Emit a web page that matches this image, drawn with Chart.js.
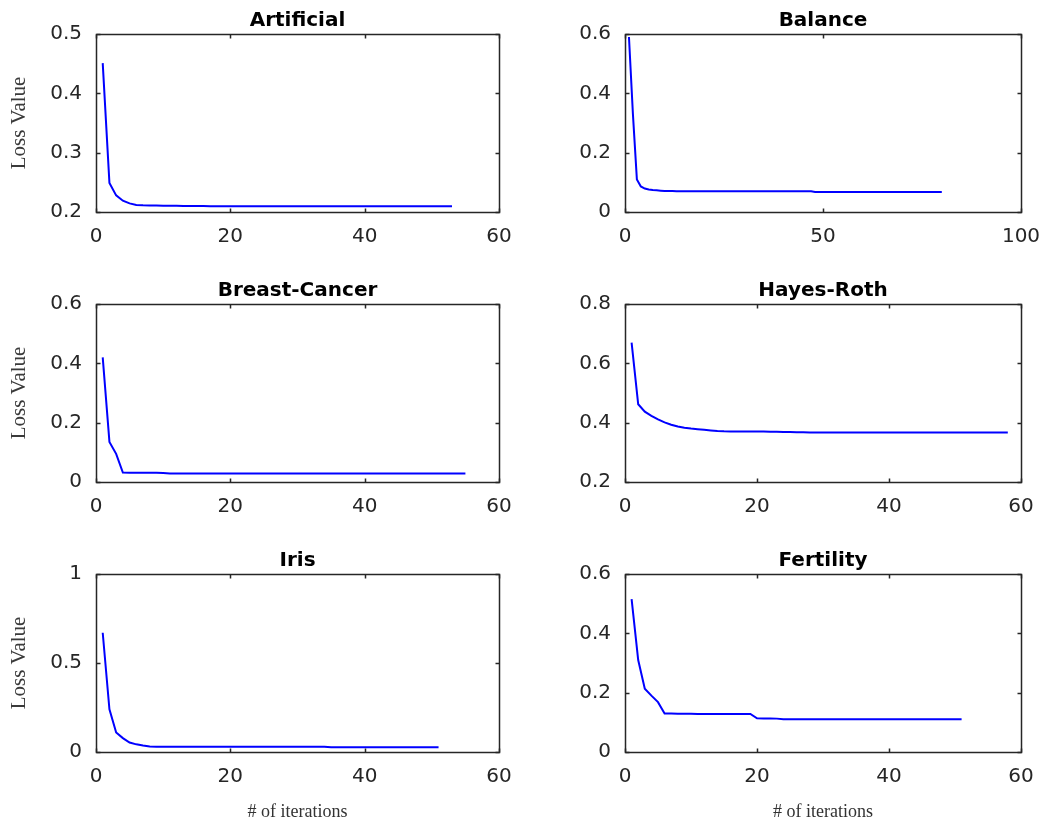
<!DOCTYPE html>
<html>
<head>
<meta charset="utf-8">
<script src="https://cdn.jsdelivr.net/npm/chart.js@4.4.1/dist/chart.umd.min.js"></script>
<style>
    body { margin: 0; background: #ffffff; }
    #wrap { position: relative; width: 1051px; height: 823px; background: #ffffff; }
    canvas { position: absolute; }
</style>
</head>
<body>
<div id="wrap">
    <canvas id="c1" width="520" height="270" style="left:0px;top:0px"></canvas>
    <canvas id="c2" width="526" height="270" style="left:525px;top:0px"></canvas>
    <canvas id="c3" width="520" height="270" style="left:0px;top:270px"></canvas>
    <canvas id="c4" width="526" height="270" style="left:525px;top:270px"></canvas>
    <canvas id="c5" width="520" height="283" style="left:0px;top:540px"></canvas>
    <canvas id="c6" width="526" height="283" style="left:525px;top:540px"></canvas>
</div>
<script>
"use strict";

// loss per iteration (iteration = index + 1)
var artificialLoss = [
    0.451, 0.249, 0.228, 0.219, 0.2145, 0.2118, 0.2112, 0.2110, 0.2108, 0.2106,
    0.2105, 0.2104, 0.2103, 0.2102, 0.2101, 0.2100, 0.2099, 0.2098, 0.2097, 0.2097,
    0.2096, 0.2096, 0.2096, 0.2096, 0.2096, 0.2096, 0.2096, 0.2096, 0.2096, 0.2096, 0.2096,
    0.2096, 0.2096, 0.2096, 0.2096, 0.2096, 0.2096, 0.2096, 0.2096, 0.2096, 0.2096, 0.2096,
    0.2096, 0.2096, 0.2096, 0.2096, 0.2096, 0.2096, 0.2096, 0.2096, 0.2096, 0.2096, 0.2096
];
var balanceLoss = [
    0.59, 0.33, 0.11, 0.086, 0.079, 0.076, 0.074, 0.073, 0.072, 0.071,
    0.0705, 0.0704, 0.0703, 0.0702, 0.0701, 0.0700, 0.0700, 0.0700, 0.0699, 0.0699,
    0.0698, 0.0698, 0.0698, 0.0698, 0.0698, 0.0698, 0.0698, 0.0698, 0.0698, 0.0698,
    0.0698, 0.0698, 0.0698, 0.0698, 0.0698, 0.0698, 0.0698, 0.0698, 0.0698, 0.0698,
    0.0698, 0.0698, 0.0698, 0.0698, 0.0698, 0.0698, 0.0698,
    0.0672, 0.0672, 0.0672, 0.0672, 0.0672, 0.0672, 0.0672, 0.0672, 0.0672, 0.0672, 0.0672,
    0.0672, 0.0672, 0.0672, 0.0672, 0.0672, 0.0672, 0.0672, 0.0672, 0.0672, 0.0672, 0.0672,
    0.0672, 0.0672, 0.0672, 0.0672, 0.0672, 0.0672, 0.0672, 0.0672, 0.0672, 0.0672, 0.0672
];
var breastLoss = [
    0.42, 0.135, 0.095, 0.032, 0.0315, 0.0312, 0.031, 0.031, 0.031, 0.0305,
    0.0288, 0.0288, 0.0288, 0.0288, 0.0288, 0.0288, 0.0288, 0.0288, 0.0288,
    0.0288, 0.0288, 0.0288, 0.0288, 0.0288, 0.0288, 0.0288, 0.0288, 0.0288,
    0.0288, 0.0288, 0.0288, 0.0288, 0.0288, 0.0288, 0.0288, 0.0288, 0.0288,
    0.0288, 0.0288, 0.0288, 0.0288, 0.0288, 0.0288, 0.0288, 0.0288, 0.0288,
    0.0288, 0.0288, 0.0288, 0.0288, 0.0288, 0.0288, 0.0288, 0.0288, 0.0288
];
var hayesLoss = [
    0.67, 0.462, 0.437, 0.423, 0.411, 0.401, 0.393, 0.387, 0.383, 0.380,
    0.378, 0.376, 0.374, 0.372, 0.371, 0.3705, 0.3703, 0.3701, 0.370, 0.370,
    0.370, 0.369, 0.369, 0.3685, 0.3685, 0.368, 0.368,
    0.3672, 0.3672, 0.3672, 0.3672, 0.3672, 0.3672, 0.3672, 0.3672, 0.3672, 0.3672, 0.3672,
    0.3672, 0.3672, 0.3672, 0.3672, 0.3672, 0.3672, 0.3672, 0.3672, 0.3672, 0.3672,
    0.3672, 0.3672, 0.3672, 0.3672, 0.3672, 0.3672, 0.3672, 0.3672, 0.3672, 0.3672
];
var irisLoss = [
    0.67, 0.24, 0.11, 0.078, 0.053, 0.043, 0.036, 0.031,
    0.030, 0.030, 0.030, 0.030, 0.030, 0.030, 0.030, 0.030, 0.030, 0.030, 0.030, 0.030, 0.030,
    0.030, 0.030, 0.030, 0.030, 0.030, 0.030, 0.030, 0.030, 0.030, 0.030, 0.030, 0.030, 0.030,
    0.027, 0.027, 0.027, 0.027, 0.027, 0.027, 0.027, 0.027, 0.027,
    0.027, 0.027, 0.027, 0.027, 0.027, 0.027, 0.027, 0.027
];
var fertilityLoss = [
    0.515, 0.31, 0.213, 0.19, 0.168, 0.13, 0.1295, 0.129, 0.129, 0.129,
    0.1285, 0.1285, 0.1285, 0.1285, 0.1285, 0.1285, 0.1285, 0.1285, 0.1285,
    0.1135, 0.113, 0.113, 0.1125,
    0.1105, 0.1105, 0.1105, 0.1105, 0.1105, 0.1105, 0.1105, 0.1105, 0.1105, 0.1105,
    0.1105, 0.1105, 0.1105, 0.1105, 0.1105, 0.1105, 0.1105, 0.1105, 0.1105, 0.1105,
    0.1105, 0.1105, 0.1105, 0.1105, 0.1105, 0.1105, 0.1105, 0.1105
];

var titles = ['Artificial', 'Balance', 'Breast-Cancer', 'Hayes-Roth', 'Iris', 'Fertility'];
var yLimits = [[0.2, 0.5, 0.1], [0, 0.6, 0.2], [0, 0.6, 0.2], [0.2, 0.8, 0.2], [0, 1, 0.5], [0, 0.6, 0.2]];
var xLimits = [[0, 60, 20], [0, 100, 50], [0, 60, 20], [0, 60, 20], [0, 60, 20], [0, 60, 20]];
var yLabel = 'Loss Value';
var xLabel = '# of iterations';

var tickColor = '#262626';

// matlab style frame with inward tick marks
var boxPlugin = {
    id: 'boxPlugin',
    afterDraw: function(chart) {
        var ctx = chart.ctx;
        var a = chart.chartArea;
        var xs = chart.scales.x, ys = chart.scales.y;
        var l = Math.round(a.left) + 0.5, r = Math.round(a.right) + 0.5;
        var t = Math.round(a.top) + 0.5, b = Math.round(a.bottom) + 0.5;
        ctx.save();
        ctx.strokeStyle = tickColor;
        ctx.lineWidth = 1.5;
        ctx.beginPath();
        xs.ticks.forEach(function(tk) {
            var px = Math.round(xs.getPixelForValue(tk.value)) + 0.5;
            ctx.moveTo(px, b); ctx.lineTo(px, b - 4);
            ctx.moveTo(px, t); ctx.lineTo(px, t + 4);
        });
        ys.ticks.forEach(function(tk) {
            var py = Math.round(ys.getPixelForValue(tk.value)) + 0.5;
            ctx.moveTo(l, py); ctx.lineTo(l + 4, py);
            ctx.moveTo(r, py); ctx.lineTo(r - 4, py);
        });
        ctx.stroke();
        ctx.strokeRect(l, t, r - l, b - t);
        ctx.restore();
    }
};

function fmt(v) {
    return String(+v.toFixed(2));
}

function makeChart(id, idx, values) {
    var leftCol = (idx % 2 === 0);
    var bottomRow = (idx >= 4);
    var points = [];
    for (var i = 0; i < values.length; i++) {
        points.push({ x: i + 1, y: values[i] });
    }
    var ctx = document.getElementById(id).getContext('2d');
    return new Chart(ctx, {
        type: 'line',
        data: {
            datasets: [{
                data: points,
                borderColor: '#0000ff',
                borderWidth: 2,
                pointRadius: 0,
                fill: false,
                tension: 0
            }]
        },
        options: {
            responsive: false,
            animation: false,
            devicePixelRatio: 1,
            layout: { padding: { left: 0, right: leftCol ? 21 : 30, top: 0, bottom: 0 } },
            plugins: {
                legend: { display: false },
                tooltip: { enabled: false },
                title: {
                    display: true,
                    text: titles[idx],
                    fullSize: false,
                    color: '#000000',
                    font: { family: 'DejaVu Sans', size: 20, weight: 'bold' },
                    padding: { top: 9, bottom: 1 }
                }
            },
            scales: {
                x: {
                    type: 'linear',
                    min: xLimits[idx][0],
                    max: xLimits[idx][1],
                    grid: { display: false, drawTicks: false },
                    border: { display: false },
                    ticks: {
                        stepSize: xLimits[idx][2],
                        color: tickColor,
                        padding: 13,
                        maxRotation: 0,
                        font: { family: 'DejaVu Sans', size: 20 },
                        callback: fmt
                    },
                    title: {
                        display: bottomRow,
                        text: xLabel,
                        color: '#333333',
                        font: { family: 'Liberation Serif', size: 18 },
                        padding: { top: 0, bottom: 0 }
                    },
                    afterFit: function(s) {
                        s.height = bottomRow ? 71 : 58;
                        s.paddingLeft = 0;
                        s.paddingRight = 0;
                    }
                },
                y: {
                    type: 'linear',
                    min: yLimits[idx][0],
                    max: yLimits[idx][1],
                    grid: { display: false, drawTicks: false },
                    border: { display: false },
                    ticks: {
                        stepSize: yLimits[idx][2],
                        color: tickColor,
                        padding: 14,
                        font: { family: 'DejaVu Sans', size: 20 },
                        callback: fmt
                    },
                    title: {
                        display: leftCol,
                        text: yLabel,
                        color: '#3a3a3a',
                        font: { family: 'Liberation Serif', size: 21 },
                        padding: { top: 7, bottom: 0 }
                    },
                    afterFit: function(s) {
                        s.width = leftCol ? 96 : 100;
                        s.paddingTop = 0;
                        s.paddingBottom = 0;
                    }
                }
            }
        },
        plugins: [boxPlugin]
    });
}

makeChart('c1', 0, artificialLoss);
makeChart('c2', 1, balanceLoss);
makeChart('c3', 2, breastLoss);
makeChart('c4', 3, hayesLoss);
makeChart('c5', 4, irisLoss);
makeChart('c6', 5, fertilityLoss);
</script>
</body>
</html>
